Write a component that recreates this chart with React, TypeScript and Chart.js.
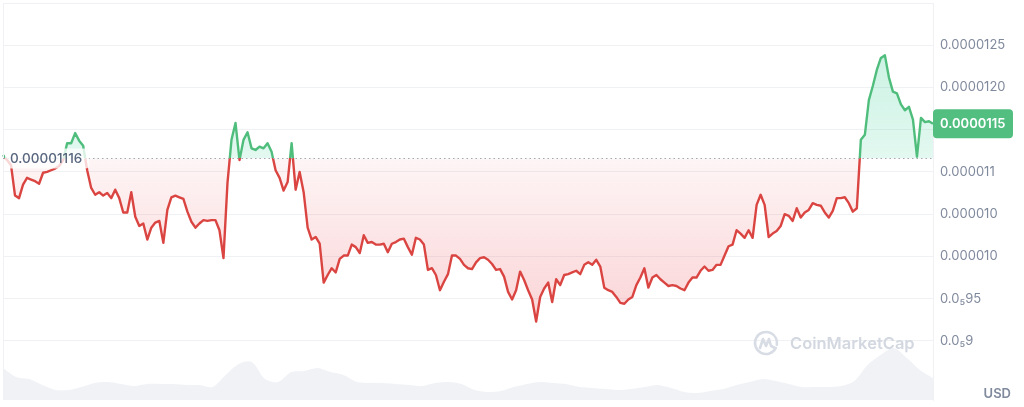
import React, { useEffect, useRef } from 'react';
import { Chart, registerables } from 'chart.js';

Chart.register(...registerables);

// Prices in micro-USD (1 = 0.000001 USD)
const BASELINE = 11.16;
const BASELINE_LABEL = '0.00001116';
const LAST_PRICE_LABEL = '0.0000115';
const CURRENCY = 'USD';
const WATERMARK = 'CoinMarketCap';

const PRICE = [
  11.20, 11.14, 11.08, 10.72, 10.69, 10.85, 10.93, 10.91, 10.89, 10.86,
  10.99, 11.00, 11.02, 11.04, 11.07, 11.14, 11.34, 11.34, 11.46, 11.37,
  11.31, 11.02, 10.81, 10.73, 10.76, 10.72, 10.75, 10.69, 10.79, 10.69,
  10.52, 10.52, 10.76, 10.47, 10.36, 10.39, 10.20, 10.34, 10.40, 10.42,
  10.16, 10.55, 10.70, 10.72, 10.70, 10.68, 10.53, 10.41, 10.34, 10.39,
  10.43, 10.42, 10.43, 10.43, 10.31, 9.98, 10.87, 11.38, 11.58, 11.14,
  11.38, 11.47, 11.28, 11.26, 11.30, 11.28, 11.34, 11.24, 11.02, 10.93,
  10.78, 10.88, 11.34, 10.79, 11.00, 10.76, 10.34, 10.20, 10.23, 10.15,
  9.69, 9.78, 9.86, 9.81, 9.97, 10.01, 10.01, 10.14, 10.11, 10.04,
  10.25, 10.16, 10.17, 10.14, 10.14, 10.15, 10.05, 10.15, 10.17, 10.20,
  10.21, 10.11, 10.02, 10.22, 10.20, 10.14, 9.84, 9.86, 9.78, 9.60,
  9.70, 9.79, 10.01, 10.01, 9.97, 9.90, 9.86, 9.85, 9.93, 9.98,
  9.99, 9.96, 9.91, 9.84, 9.85, 9.76, 9.58, 9.49, 9.60, 9.82,
  9.72, 9.60, 9.49, 9.23, 9.52, 9.62, 9.69, 9.46, 9.73, 9.66,
  9.78, 9.79, 9.81, 9.83, 9.79, 9.90, 9.93, 9.90, 9.96, 9.88,
  9.63, 9.60, 9.58, 9.52, 9.45, 9.44, 9.49, 9.52, 9.66, 9.75,
  9.86, 9.63, 9.75, 9.78, 9.73, 9.69, 9.65, 9.66, 9.65, 9.62,
  9.60, 9.69, 9.75, 9.75, 9.83, 9.88, 9.83, 9.84, 9.90, 9.90,
  10.01, 10.12, 10.14, 10.31, 10.27, 10.22, 10.31, 10.22, 10.61, 10.73,
  10.61, 10.23, 10.27, 10.30, 10.36, 10.50, 10.48, 10.42, 10.57, 10.46,
  10.52, 10.55, 10.63, 10.61, 10.60, 10.52, 10.46, 10.54, 10.69, 10.69,
  10.70, 10.63, 10.53, 10.57, 11.38, 11.44, 11.85, 12.02, 12.21, 12.35,
  12.38, 12.12, 11.95, 11.93, 11.80, 11.73, 11.77, 11.62, 11.18, 11.64,
  11.59, 11.60, 11.57,
];

// Trading volume, arbitrary units (millions)
const VOLUME = [
  32, 23, 21, 15, 10, 10, 13, 17, 18, 16, 14, 16, 16, 16, 15, 15, 13, 25,
  36, 38, 21, 18, 28, 29, 32, 28, 25, 18, 17, 17, 16, 15, 14, 17, 18, 16,
  10, 8, 9, 13, 16, 18, 17, 16, 13, 12, 11, 10, 11, 13, 15, 12, 8, 7,
  9, 11, 15, 18, 21, 19, 16, 13, 13, 13, 14, 19, 35, 45, 52, 42, 30, 22,
];
const VOLUME_MAX = 397;

const TICK_VALUES = [9.0, 9.5, 10.0, 10.5, 11.0, 11.5, 12.0, 12.5, 13.0];
const TICK_LABELS = ['0.0\u20859', '0.0\u208595', '0.000010', '0.000010', '0.000011', '', '0.0000120', '0.0000125', ''];
const Y_MIN = 8.3;
const Y_MAX = 13.0;

const PRICE_LABELS = PRICE.map((_, i) => String(i));
const VOLUME_LABELS = VOLUME.map((_, i) => String(i));

const FONT = 'Inter, "Noto Sans", sans-serif';
const GREEN = '#4fbd7c';
const RED = '#da4542';
const BADGE = '#52bf80';
const GRID = '#eff1f4';
const TEXT = '#808a9d';

export default function App() {
  const canvasRef = useRef<HTMLCanvasElement | null>(null);

  useEffect(() => {
    const canvas = canvasRef.current;
    if (!canvas) return;

    const splitAt = (chart: any) => {
      const area = chart.chartArea;
      const y = chart.scales.y.getPixelForValue(BASELINE);
      return Math.min(1, Math.max(0, (y - area.top) / (area.bottom - area.top)));
    };

    const overlay = {
      id: 'overlay',
      beforeDatasetsDraw(chart: any) {
        const { ctx, chartArea } = chart;
        ctx.save();
        // watermark
        const cx = chartArea.left + 763;
        const cy = 343;
        ctx.strokeStyle = '#d8dce4';
        ctx.lineWidth = 2.6;
        ctx.lineCap = 'round';
        ctx.lineJoin = 'round';
        ctx.beginPath();
        ctx.arc(cx, cy, 11, Math.PI * 0.15, Math.PI * 2.05);
        ctx.stroke();
        ctx.beginPath();
        ctx.moveTo(cx - 6, cy + 5);
        ctx.lineTo(cx - 3, cy - 4);
        ctx.lineTo(cx, cy + 3);
        ctx.lineTo(cx + 3, cy - 4);
        ctx.lineTo(cx + 5, cy + 3);
        ctx.lineTo(cx + 9, cy + 5);
        ctx.stroke();
        ctx.fillStyle = '#d3d8e0';
        ctx.font = `600 16.5px ${FONT}`;
        ctx.textBaseline = 'middle';
        ctx.textAlign = 'left';
        ctx.fillText(WATERMARK, cx + 24, cy + 1);
        ctx.restore();
      },
      afterDraw(chart: any) {
        const { ctx, chartArea, scales } = chart;
        ctx.save();
        // left border
        ctx.strokeStyle = GRID;
        ctx.lineWidth = 1;
        ctx.beginPath();
        ctx.moveTo(chartArea.left + 0.5, chartArea.top);
        ctx.lineTo(chartArea.left + 0.5, chartArea.bottom);
        ctx.stroke();

        // dotted baseline
        const by = Math.round(scales.y.getPixelForValue(BASELINE)) + 0.5;
        ctx.strokeStyle = '#a3a8b3';
        ctx.setLineDash([1.5, 3]);
        ctx.beginPath();
        ctx.moveTo(chartArea.left, by);
        ctx.lineTo(chartArea.right, by);
        ctx.stroke();
        ctx.setLineDash([]);

        // baseline label
        ctx.font = `500 13.5px ${FONT}`;
        const tw = ctx.measureText(BASELINE_LABEL).width;
        ctx.fillStyle = 'rgba(255,255,255,0.78)';
        ctx.beginPath();
        (ctx as any).roundRect(chartArea.left + 2, by - 10, tw + 12, 20, 4);
        ctx.fill();
        ctx.fillStyle = '#58667e';
        ctx.textBaseline = 'middle';
        ctx.textAlign = 'left';
        ctx.fillText(BASELINE_LABEL, chartArea.left + 7, by + 0.5);

        // last price badge
        const ly = scales.y.getPixelForValue(PRICE[PRICE.length - 1]);
        ctx.fillStyle = BADGE;
        ctx.beginPath();
        (ctx as any).roundRect(chartArea.right, ly - 14.5, 80, 29, 4);
        ctx.fill();
        ctx.fillStyle = '#ffffff';
        ctx.font = `600 13px ${FONT}`;
        ctx.fillText(LAST_PRICE_LABEL, chartArea.right + 7, ly + 0.5);

        // currency
        ctx.fillStyle = TEXT;
        ctx.font = `600 13px ${FONT}`;
        ctx.textAlign = 'right';
        ctx.fillText(CURRENCY, 1011, 394);
        ctx.restore();
      },
    };

    const chart = new Chart(canvas, {
      type: 'line',
      data: {
        labels: PRICE_LABELS,
        datasets: [
          {
            data: PRICE,
            xAxisID: 'x',
            yAxisID: 'y',
            borderWidth: 2.4,
            pointRadius: 0,
            tension: 0,
            order: 0,
            borderJoinStyle: 'round',
            borderColor: (c: any) => {
              const chart = c.chart;
              const area = chart.chartArea;
              if (!area) return RED;
              const f = splitAt(chart);
              const g = chart.ctx.createLinearGradient(0, area.top, 0, area.bottom);
              g.addColorStop(0, GREEN);
              g.addColorStop(f, GREEN);
              g.addColorStop(f, RED);
              g.addColorStop(1, RED);
              return g;
            },
            fill: (c: any) => {
              const chart = c.chart;
              const area = chart.chartArea;
              if (!area) return { target: { value: BASELINE }, above: 'rgba(22,199,132,0.15)', below: 'rgba(234,57,67,0.1)' };
              const by = chart.scales.y.getPixelForValue(BASELINE);
              const gTop = chart.scales.y.getPixelForValue(12.4);
              const gBot = chart.scales.y.getPixelForValue(9.2);
              const above = chart.ctx.createLinearGradient(0, gTop, 0, by);
              above.addColorStop(0, 'rgba(22,199,132,0.22)');
              above.addColorStop(1, 'rgba(22,199,132,0.12)');
              const below = chart.ctx.createLinearGradient(0, by, 0, gBot);
              below.addColorStop(0, 'rgba(234,57,67,0.05)');
              below.addColorStop(1, 'rgba(234,57,67,0.22)');
              return { target: { value: BASELINE }, above, below };
            },
          } as any,
          {
            data: VOLUME,
            xAxisID: 'xv',
            yAxisID: 'yv',
            borderWidth: 0,
            pointRadius: 0,
            tension: 0.3,
            order: 1,
            backgroundColor: 'rgba(205,211,224,0.3)',
            borderColor: 'rgba(0,0,0,0)',
            fill: 'origin',
          } as any,
        ],
      },
      options: {
        animation: false,
        responsive: false,
        devicePixelRatio: 1,
        events: [],
        layout: { padding: { left: 3, top: 3, bottom: 7, right: 0 } },
        plugins: { legend: { display: false }, tooltip: { enabled: false } },
        scales: {
          x: { type: 'category', display: false },
          xv: { type: 'category', labels: VOLUME_LABELS, display: false },
          yv: { type: 'linear', display: false, min: 0, max: VOLUME_MAX },
          y: {
            type: 'linear',
            position: 'right',
            min: Y_MIN,
            max: Y_MAX,
            afterBuildTicks: (s: any) => {
              s.ticks = TICK_VALUES.map((v) => ({ value: v }));
            },
            afterFit: (s: any) => {
              s.width = 91;
              s.paddingTop = 0;
              s.paddingBottom = 0;
            },
            grid: { color: GRID, drawTicks: false, lineWidth: 1 },
            border: { display: true, color: GRID },
            ticks: {
              padding: 7,
              color: TEXT,
              font: { family: FONT, size: 13 },
              callback: (_v: any, i: number) => TICK_LABELS[i],
            },
          },
        },
      } as any,
      plugins: [overlay],
    });

    return () => chart.destroy();
  }, []);

  return (
    <div style={{ position: 'fixed', left: 0, top: 0, width: 1024, height: 407, background: '#fff' }}>
      <canvas ref={canvasRef} width={1024} height={407} />
    </div>
  );
}
